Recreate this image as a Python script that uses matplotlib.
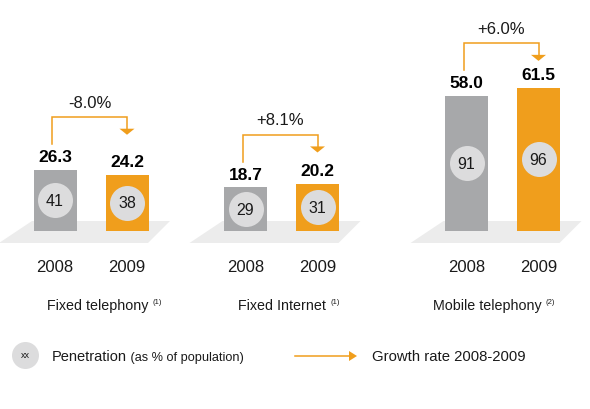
import matplotlib
matplotlib.use('Agg')
import matplotlib.pyplot as plt
from matplotlib.patches import Polygon

plt.rcParams['font.family'] = ['Liberation Sans', 'DejaVu Sans']

# Data
categories = ['Fixed telephony', 'Fixed Internet', 'Mobile telephony']
notes = ['(1)', '(1)', '(2)']
years = ['2008', '2009']
values_2008 = [26.3, 18.7, 58.0]
values_2009 = [24.2, 20.2, 61.5]
penetration_2008 = [41, 29, 91]
penetration_2009 = [38, 31, 96]
growth = ['-8.0%', '+8.1%', '+6.0%']

GRAY = '#a7a8aa'
ORANGE = '#f09e1c'
CIRCLE = '#dcdcdd'
FLOOR = '#ececec'
TEXT = '#1a1a1a'

W, H = 590, 410
PX = 2.33          # pixels per value unit
BASE = 232         # baseline pixel (from top)

fig = plt.figure(figsize=(W / 100, H / 100), dpi=100)
ax = fig.add_axes([0, 0, 1, 1])
ax.set_xlim(0, W)
ax.set_ylim(-(H - BASE) / PX, BASE / PX)
ax.axis('off')


def vy(px_from_top):
    return (BASE - px_from_top) / PX


group_left = [55, 245.5, 466.5]
label_left = [47, 238, 433]
gap = 72
bar_w = 43

for i in range(len(categories)):
    x0 = group_left[i]
    x1 = x0 + gap
    xc = (x0 + x1) / 2
    # floor
    ax.add_patch(Polygon([(xc - 59, vy(222)), (xc + 79, vy(222)),
                          (xc + 57, vy(244)), (xc - 92, vy(244))],
                         closed=True, fc=FLOOR, ec='none', zorder=1))
    v0, v1 = values_2008[i], values_2009[i]
    ax.bar([x0, x1], [v0, v1], width=bar_w, color=[GRAY, ORANGE], zorder=2)
    # penetration circles
    ax.scatter([x0, x1], [v0 / 2, v1 / 2], s=(35 * 0.72) ** 2, color=CIRCLE,
               zorder=3, linewidths=0)
    ax.text(x0, v0 / 2, str(penetration_2008[i]), ha='center', va='center',
            fontsize=11.5, color=TEXT, zorder=4)
    ax.text(x1, v1 / 2, str(penetration_2009[i]), ha='center', va='center',
            fontsize=11.5, color=TEXT, zorder=4)
    # value labels
    ax.text(x0, v0 + 2.4, f'{v0:.1f}', ha='center', va='bottom',
            fontsize=12.5, fontweight='bold', color='black')
    ax.text(x1, v1 + 2.4, f'{v1:.1f}', ha='center', va='bottom',
            fontsize=12.5, fontweight='bold', color='black')
    # growth arrow
    ax_start = x0 - 3
    y_start = v0 + 11
    y_top = v0 + 22.5
    y_tip = y_top - 7.5
    ax.plot([ax_start, ax_start, x1, x1], [y_start, y_top, y_top, y_tip + 2.4],
            color=ORANGE, lw=1.1, solid_joinstyle='miter', zorder=2)
    ax.add_patch(Polygon([(x1 - 7.5, y_tip + 2.6), (x1 + 7.5, y_tip + 2.6),
                          (x1, y_tip)], closed=True, fc=ORANGE, ec='none'))
    ax.text((ax_start + x1) / 2, y_top + 3.3, growth[i], ha='center',
            va='bottom', fontsize=12, color=TEXT)
    # year labels
    for x, yr in zip([x0, x1], years):
        ax.text(x, vy(268), yr, ha='center', va='center', fontsize=12,
                color=TEXT)
    # category label with footnote
    t = ax.text(label_left[i], vy(306), categories[i], ha='left', va='center',
                fontsize=10.3, color=TEXT)
    ax.annotate(notes[i], xy=(1, 1), xycoords=t, xytext=(3, 0),
                textcoords='offset points', ha='left', va='top',
                fontsize=5.5, color=TEXT)

# legend
ax.scatter([25], [vy(356)], s=(27 * 0.72) ** 2, color=CIRCLE, linewidths=0)
ax.text(25, vy(356), 'xx', ha='center', va='center', fontsize=6.5, color=TEXT)
t = ax.text(52, vy(357), 'Penetration', ha='left', va='center',
            fontsize=10.5, color=TEXT)
ax.annotate(' (as % of population)', xy=(1, 0), xycoords=t, ha='left',
            va='bottom', fontsize=9.2, color=TEXT)
ax.plot([295, 351], [vy(357), vy(357)], color=ORANGE, lw=1.1)
ax.add_patch(Polygon([(349, vy(352)), (349, vy(362)), (357, vy(357))],
                     closed=True, fc=ORANGE, ec='none'))
ax.text(372, vy(357), 'Growth rate 2008-2009', ha='left', va='center',
        fontsize=10.7, color=TEXT)

fig.savefig('out.png', dpi=100)
